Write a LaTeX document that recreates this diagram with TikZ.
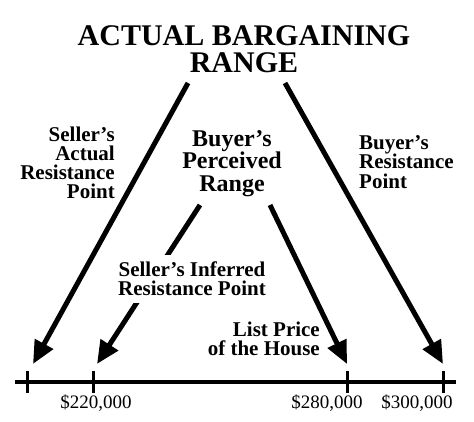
\documentclass[tikz,border=0pt]{standalone}
\usepackage{fontspec}
\setmainfont{Liberation Serif}
\usetikzlibrary{arrows.meta}

\begin{document}
\begin{tikzpicture}[x=1pt, y=-1pt, lbl/.style={font=\fontsize{21}{19}\selectfont\bfseries, inner sep=0pt}, price/.style={font=\fontsize{19}{19}\selectfont, inner sep=0pt, anchor=base}, pointer/.style={line width=5pt, -{Triangle[length=23pt, width=20pt]}}, tickmark/.style={line width=3pt}]
	\useasboundingbox (0,0) rectangle (474,422);
	\node[font=\fontsize{30}{27}\selectfont\bfseries, align=center, anchor=north, inner sep=0pt] (title) at (244,25) {ACTUAL BARGAINING\\RANGE};
	\node[lbl, align=right, anchor=north east] (sellerActual) at (115,127) {Seller's\\Actual\\Resistance\\Point};
	\node[lbl, font=\fontsize{24}{22.5}\selectfont\bfseries, align=center, anchor=north] (buyerRange) at (232,130) {Buyer's\\Perceived\\Range};
	\node[lbl, align=left, anchor=north west, font=\fontsize{21}{19.5}\selectfont\bfseries] (buyerResist) at (359,135) {Buyer's\\Resistance\\Point};
	\node[lbl, align=right, anchor=north east] (listPrice) at (320,322) {List Price\\of the House};
	% price line
	\coordinate (axL) at (15,382);
	\coordinate (axR) at (456,382);
	\draw[line width=3.5pt] (axL) -- (axR);
	\foreach \n/\x in {t0/27, t220/93, t280/347, t300/443} {\coordinate (\n) at (\x,382); \draw[tickmark] ([yshift=-11pt]\n) -- ([yshift=11pt]\n);}
	\node[price] (p220) at (96,408) {\$220,000};
	\node[price] (p280) at (327,408) {\$280,000};
	\node[price] (p300) at (417,408) {\$300,000};
	% arrows
	\coordinate (aL) at (188,83);
	\coordinate (aR) at (285,83);
	\coordinate (bL) at (200,205);
	\coordinate (bR) at (270,205);
	\foreach \n/\x in {tipA/33, tipB/97, tipC/347, tipD/443} {\coordinate (\n) at (\x,364);}
	\draw[pointer] (aL) -- (tipA);
	\draw[pointer] (aR) -- (tipD);
	\draw[pointer] (bL) -- (tipB);
	\draw[pointer] (bR) -- (tipC);
	% label sits on top of the inner arrow
	\node[lbl, align=center, anchor=north, fill=white, inner xsep=2pt, inner ysep=7pt] (sellerInferred) at (192,255) {Seller's Inferred\\Resistance Point};
\end{tikzpicture}
\end{document}
